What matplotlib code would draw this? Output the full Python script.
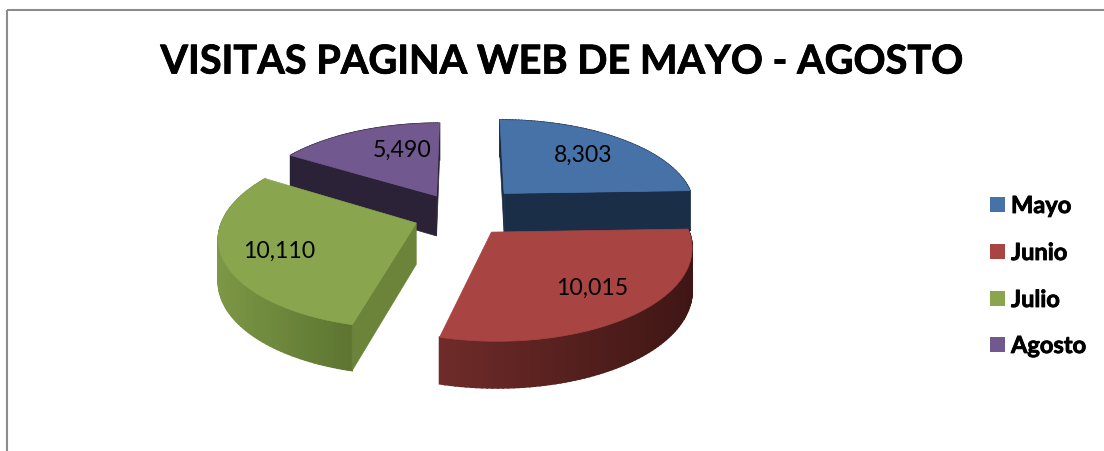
import numpy as np
import matplotlib
matplotlib.use("Agg")
import matplotlib.pyplot as plt
import matplotlib.patheffects as pe
from matplotlib.patches import Polygon, Rectangle
from matplotlib.colors import to_rgb

title = "VISITAS PAGINA WEB DE MAYO - AGOSTO"
months = ["Mayo", "Junio", "Julio", "Agosto"]
visits = [8303, 10015, 10110, 5490]
top_colors = ["#4672A8", "#A84442", "#89A64E", "#71588F"]
side_left = ["#1A2E47", "#6E2B29", "#7C9745", "#2C2238"]
side_right = ["#1A2E47", "#3F1614", "#5C7431", "#2C2238"]
cut_colors = ["#1A2E47", "#3F1614", "#6C833A", "#2C2238"]
show_cuts = [(True, True), (False, False), (True, False), (True, True)]
nudge_x = [3, -8, -1, -5]
nudge_y = [-2, 1, 2, 4]
label_xy = [(583, 155), (592, 288), (279, 251), (402, 150)]
legend_y = [205, 252, 299, 345]

cx, cy, Rx, Ry, persp, depth, explode = 466, 213, 192, 88, 0.14, 41, 0.27

def project(X, Y, z, dx, dy):
    w = 1 + persp * Y
    return cx + dx + Rx * X / w, cy + dy - Ry * Y / w + z * depth / (1 + 0.1 * Y)

fig = plt.figure(figsize=(11.04, 4.52), dpi=100)
ax = fig.add_axes([0, 0, 1, 1])
ax.set_xlim(0, 1104)
ax.set_ylim(452, 0)
ax.axis("off")
ax.add_patch(Rectangle((7, 11), 1200, 600, fill=False, ec="#8C8C8C", lw=1.5, zorder=1))

font = "Lato"
heavy = [pe.withStroke(linewidth=0.6, foreground="black")]
ax.text(562.5, 63, title, family=font, weight="bold", fontsize=28.6, ha="center", va="center",
        color="black", path_effects=heavy)

total = sum(visits)
fracs = np.array(visits) / total
edges = np.concatenate([[0], np.cumsum(fracs)]) * 2 * np.pi

order = [3, 0, 2, 1]
z = 2
for i in order:
    t0, t1 = edges[i], edges[i + 1]
    mid = (t0 + t1) / 2
    ax0, ay0 = explode * np.sin(mid), explode * np.cos(mid)
    ts = np.linspace(t0, t1, 81)
    Xs, Ys = ax0 + np.sin(ts), ay0 + np.cos(ts)
    c0, c1 = np.array(to_rgb(side_left[i])), np.array(to_rgb(side_right[i]))
    dx, dy = nudge_x[i], nudge_y[i]
    sx_top, sy_top = project(Xs, Ys, 0, dx, dy)
    sx_bot, sy_bot = project(Xs, Ys, 1, dx, dy)
    lo, hi = sx_top.min(), sx_top.max()
    for k in range(len(ts) - 1):
        f = ((sx_top[k] + sx_top[k + 1]) / 2 - lo) / (hi - lo)
        col = c0 + (c1 - c0) * f
        ax.add_patch(Polygon([(sx_top[k], sy_top[k]), (sx_top[k + 1], sy_top[k + 1]),
                              (sx_bot[k + 1], sy_bot[k + 1]), (sx_bot[k], sy_bot[k])],
                             closed=True, fc=col, ec=col, lw=1.2, zorder=z))
    apx_t = project(ax0, ay0, 0, dx, dy)
    apx_b = project(ax0, ay0, 1, dx, dy)
    for e, show in zip((0, -1), show_cuts[i]):
        if show:
            ax.add_patch(Polygon([apx_t, (sx_top[e], sy_top[e]), (sx_bot[e], sy_bot[e]), apx_b],
                                 closed=True, fc=cut_colors[i], ec=cut_colors[i], lw=0.5, zorder=z + 1))
    pts = [apx_t] + list(zip(sx_top, sy_top))
    ax.add_patch(Polygon(pts, closed=True, fc=top_colors[i], ec=top_colors[i], lw=0.5, zorder=z + 2))
    z += 3

for v, (lx, ly) in zip(visits, label_xy):
    ax.text(lx, ly, f"{v:,}", family=font, fontsize=16.6, ha="center", va="center", color="black", zorder=50)

for m, c, y in zip(months, top_colors, legend_y):
    ax.add_patch(Rectangle((990, y - 7.5), 15, 15, fc=c, ec="none", zorder=50))
    ax.text(1011, y + 1.5, m, family=font, weight="bold", fontsize=17, ha="left", va="center",
            color="black", zorder=50, path_effects=heavy)

fig.savefig("out.png", dpi=100, facecolor="white")
